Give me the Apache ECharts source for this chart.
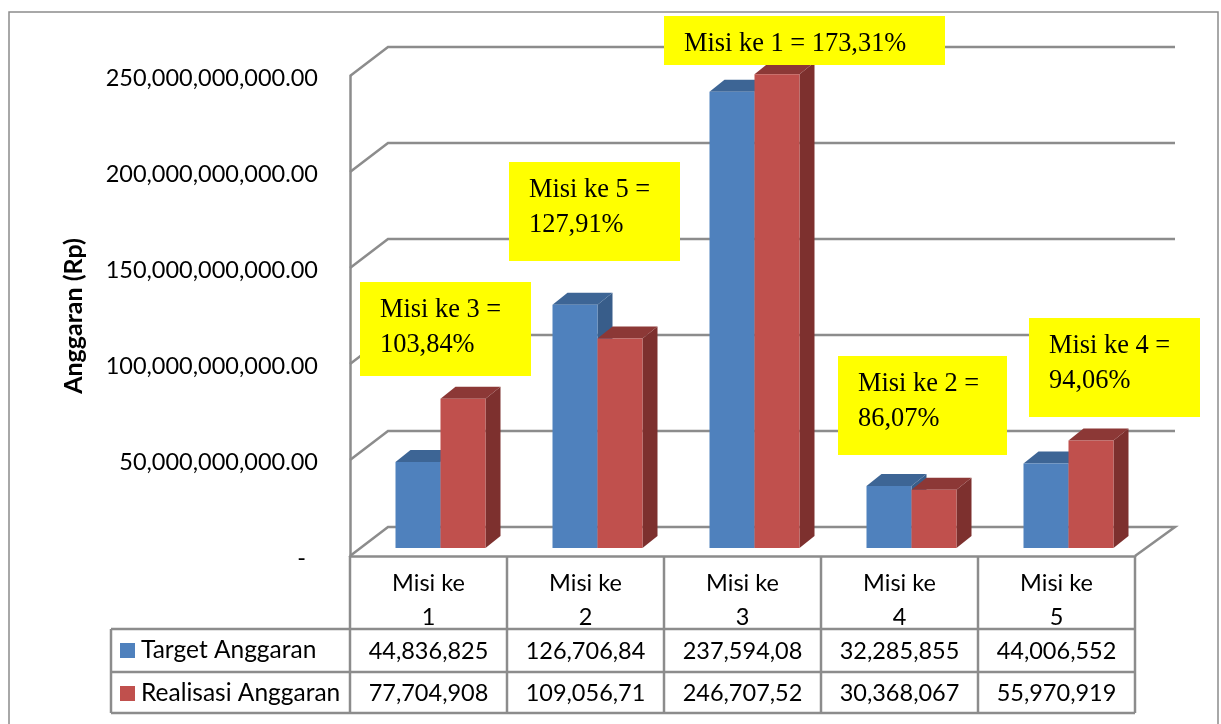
<!DOCTYPE html>
<html>
<head>
<meta charset="utf-8">
<title>Anggaran</title>
<script src="https://cdn.jsdelivr.net/npm/echarts@6/dist/echarts.min.js"></script>
<style>
  html, body { margin: 0; padding: 0; background: #fff; }
  #chart { width: 1221px; height: 724px; }
</style>
</head>
<body>
<div id="chart"></div>
<script>
  const categories = ['Misi ke\n1', 'Misi ke\n2', 'Misi ke\n3', 'Misi ke\n4', 'Misi ke\n5']
  const targetValues = [44836825000, 126706840000, 237594080000, 32285855000, 44006552000]
  const realisasiValues = [77704908000, 109056710000, 246707520000, 30368067000, 55970919000]
  const targetLabels = ['44,836,825', '126,706,84', '237,594,08', '32,285,855', '44,006,552']
  const realisasiLabels = ['77,704,908', '109,056,71', '246,707,52', '30,368,067', '55,970,919']
  const wallTicks = [0, 50000000000, 100000000000, 150000000000, 200000000000, 250000000000]
  const noteTexts = ['Misi ke 3 =\n103,84%', 'Misi ke 5 =\n127,91%', 'Misi ke 1 = 173,31%', 'Misi ke 2 =\n86,07%', 'Misi ke 4 =\n94,06%']

  const lineColor = '#8c8c8c'
  const sansFont = 'Lato'
  const sansSize = 23.5

  // box of each note: x, y, width, height
  const noteBoxes = [
    [360, 282, 171, 94],
    [509, 162, 171, 99],
    [664, 16, 281, 49],
    [838, 356, 169, 99],
    [1029, 318, 171, 99]
  ]

  const chart = echarts.init(document.getElementById('chart'))

  // wall and floor lines of the 3D box
  function renderWall(params, api) {
    const p = api.coord([0, api.value(1)])
    const size = api.size([1, 0])[0]
    const left = p[0] - size / 2
    const right = api.coord([categories.length - 1, 0])[0] + size / 2
    const points = [[left, p[1]], [left + 38, p[1] - 29], [right + 40, p[1] - 29]]
    if (api.value(1) === 0) {
      points.push([right, p[1]])
    }
    return {
      type: 'polyline',
      shape: { points },
      style: { stroke: lineColor, lineWidth: 2.5, fill: null }
    }
  }

  function makeBarRender(side, front, top, flank) {
    return function (params, api) {
      const topPoint = api.coord([api.value(0), api.value(1)])
      const basePoint = api.coord([api.value(0), 0])
      const w = 45
      const x0 = basePoint[0] + 12 + (side < 0 ? -w : 0)
      const x1 = x0 + w
      const y0 = topPoint[1] - 8
      const y1 = basePoint[1] - 8
      const dx = 15
      const dy = 12
      return {
        type: 'group',
        children: [
          {
            type: 'polygon',
            shape: { points: [[x1, y0], [x1 + dx, y0 - dy], [x1 + dx, y1 - dy], [x1, y1]] },
            style: { fill: flank }
          },
          {
            type: 'polygon',
            shape: { points: [[x0, y0], [x0 + dx, y0 - dy], [x1 + dx, y0 - dy], [x1, y0]] },
            style: { fill: top }
          },
          {
            type: 'rect',
            shape: { x: x0, y: y0, width: w, height: y1 - y0 },
            style: { fill: front }
          }
        ]
      }
    }
  }

  // data table under the chart, columns follow the category axis
  function renderTable(params, api) {
    const i = api.value(0)
    const p = api.coord([i, 0])
    const size = api.size([1, 0])[0]
    const left = p[0] - size / 2
    const right = p[0] + size / 2
    const tableLeft = i === 0 ? 111 : left
    const rows = [629, 672, 713]
    const children = []
    const line = (x1, y1, x2, y2) => ({
      type: 'line',
      shape: { x1, y1, x2, y2 },
      style: { stroke: lineColor, lineWidth: 2.5 }
    })
    rows.forEach(y => children.push(line(tableLeft, y, right, y)))
    children.push(line(left, p[1], left, rows[2]))
    if (i === categories.length - 1) {
      children.push(line(right, p[1], right, rows[2]))
    }
    if (i === 0) {
      children.push(line(tableLeft, rows[0], tableLeft, rows[2]))
    }
    const cell = (text, y) => ({
      type: 'text',
      style: {
        text,
        x: p[0],
        y,
        align: 'center',
        verticalAlign: 'middle',
        fontFamily: sansFont,
        fontSize: sansSize,
        fill: '#000'
      }
    })
    children.push(cell(targetLabels[i], 651))
    children.push(cell(realisasiLabels[i], 693))
    return { type: 'group', children }
  }

  const noteGraphics = []
  noteTexts.forEach((text, i) => {
    const box = noteBoxes[i]
    noteGraphics.push({
      type: 'rect',
      z: 100,
      shape: { x: box[0], y: box[1], width: box[2], height: box[3] },
      style: { fill: '#ffff00' }
    })
    noteGraphics.push({
      type: 'text',
      z: 101,
      x: box[0] + 20,
      y: box[1] + 11,
      style: {
        text,
        fontFamily: 'Liberation Serif',
        fontSize: 26.4,
        lineHeight: 35,
        fill: '#000'
      }
    })
  })

  chart.setOption({
    animation: false,
    backgroundColor: '#fff',
    grid: { left: 350, right: 86, top: 76, bottom: 168 },
    legend: {
      data: ['Target Anggaran', 'Realisasi Anggaran'],
      orient: 'vertical',
      left: 115,
      top: 633,
      padding: [5, 0, 0, 5],
      icon: 'rect',
      itemWidth: 15,
      itemHeight: 15,
      itemGap: 18,
      selectedMode: false,
      textStyle: { fontFamily: sansFont, fontSize: 24.5, color: '#000', padding: [0, 0, 0, 1] }
    },
    xAxis: {
      type: 'category',
      data: categories,
      axisTick: { show: false },
      axisLine: { lineStyle: { color: lineColor, width: 2.5 } },
      axisLabel: {
        fontFamily: sansFont,
        fontSize: sansSize,
        color: '#000',
        lineHeight: 34,
        margin: 10
      }
    },
    yAxis: {
      type: 'value',
      min: 0,
      max: 250000000000,
      interval: 50000000000,
      name: 'Anggaran (Rp)',
      nameLocation: 'middle',
      nameGap: 264,
      nameTextStyle: { fontFamily: sansFont, fontSize: 25, fontWeight: 'bold', color: '#000' },
      splitLine: { show: false },
      axisTick: { show: false },
      axisLine: { show: true, lineStyle: { color: lineColor, width: 2.5 } },
      axisLabel: {
        fontFamily: sansFont,
        fontSize: sansSize,
        color: '#000',
        margin: 32,
        verticalAlign: 'top',
        lineHeight: 5,
        formatter: function (value) {
          if (value === 0) {
            return '-  '
          }
          return value.toLocaleString('en-US') + '.00'
        }
      }
    },
    series: [
      {
        type: 'custom',
        name: 'wall',
        z: 1,
        silent: true,
        renderItem: renderWall,
        encode: { x: 0, y: 1 },
        data: wallTicks.map(v => [0, v])
      },
      {
        type: 'custom',
        name: 'Target Anggaran',
        z: 3,
        itemStyle: { color: '#4f81bd' },
        renderItem: makeBarRender(-1, '#4f81bd', '#3d6595', '#385d8a'),
        encode: { x: 0, y: 1 },
        data: targetValues.map((v, i) => [i, v])
      },
      {
        type: 'custom',
        name: 'Realisasi Anggaran',
        z: 4,
        itemStyle: { color: '#c0504d' },
        renderItem: makeBarRender(1, '#c0504d', '#8c3836', '#7d302e'),
        encode: { x: 0, y: 1 },
        data: realisasiValues.map((v, i) => [i, v])
      },
      {
        type: 'custom',
        name: 'table',
        z: 2,
        silent: true,
        renderItem: renderTable,
        encode: { x: 0, y: 1 },
        data: categories.map((c, i) => [i, 0])
      }
    ],
    graphic: {
      elements: [
        {
          type: 'polyline',
          shape: { points: [[9, 724], [9, 12], [1218, 12], [1218, 724]] },
          style: { stroke: lineColor, lineWidth: 1.5, fill: null }
        }
      ].concat(noteGraphics)
    }
  })
</script>
</body>
</html>
